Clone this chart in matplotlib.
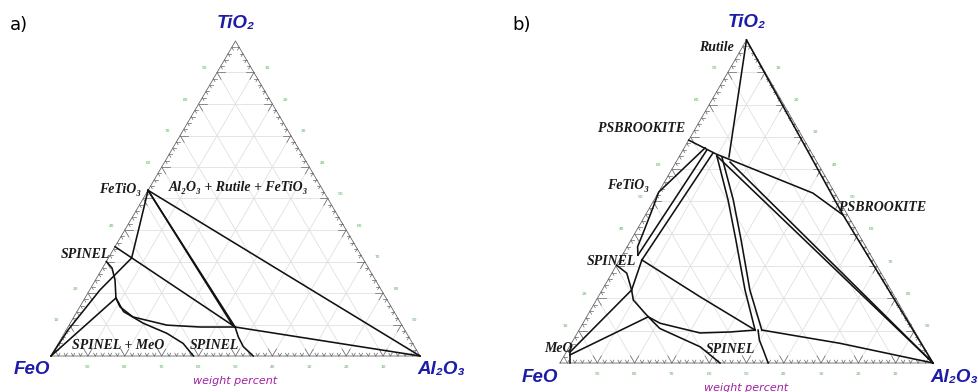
import numpy as np
import matplotlib.pyplot as plt

# phase boundaries as (wt% TiO2, wt% Al2O3); FeO is the balance
# --- panel a ---
a_ilm_cor = [(52.6, 0), (0, 100)]
a_ilm_sp1 = [(52.6, 0), (9.2, 45.3)]
a_ilm_sp2 = [(52.6, 0), (9.7, 44.4)]
a_ilm_feo = [(52.6, 0), (42.1, 3.1), (31.1, 6.3), (21.0, 2.8), (8.3, 0.5), (0, 0)]
a_sp_tie = [(34.7, 0), (9.2, 45.3)]
a_sp_upper = [(30.0, 0), (27.9, 2.6), (24.1, 5.3), (18.4, 8.4), (15.6, 10.9), (12.4, 16.0),
              (9.8, 26.5), (9.2, 35.8), (9.2, 45.3)]
a_sp_lower = [(18.4, 8.4), (14.1, 12.6), (10.4, 19.8), (7.2, 27.8), (4.0, 33.8), (0, 38.6)]
a_sp_right = [(9.2, 45.3), (6.1, 47.7), (3.0, 50.6), (0, 54.8)]
a_sp_cor = [(9.2, 45.3), (0, 100)]
a_feo_sp = [(0, 0), (18.4, 8.4)]

# --- panel b ---
b_psb_tie = [(69.0, 0), (64.7, 9.5), (52.6, 41.5), (45.8, 53.0)]
b_rutile = [(100, 0), (63.8, 13.4)]
b_ilm_1 = [(66.6, 5.6), (52.9, 0), (47.4, 1.0), (40.0, 2.2), (36.0, 2.8), (33.4, 4.2)]
b_ilm_2 = [(65.9, 6.4), (33.4, 4.2)]
b_ilm_3 = [(65.0, 8.5), (31.9, 6.0)]
b_sp_tie = [(31.9, 6.0), (20.5, 27.3), (10.2, 47.2)]
b_sp_link = [(31.9, 6.0), (22.6, 7.9)]
b_sp_upper = [(30.3, 0), (27.8, 4.0), (22.6, 7.9), (19.5, 9.9), (14.3, 16.5), (12.3, 20.7),
              (9.3, 32.9), (9.6, 40.8), (10.2, 47.2)]
b_sp_lower = [(14.3, 16.5), (10.7, 21.4), (5.0, 35.1), (0, 42.9)]
b_meo_1 = [(22.6, 7.9), (3.4, 1.0)]
b_meo_2 = [(14.3, 16.5), (2.5, 1.4)]
b_meo_3 = [(3.4, 1.0), (0, 2.7)]
b_q_j1 = [(64.1, 10.0), (50.5, 19.8), (38.1, 28.1), (22.6, 38.3), (10.2, 47.2)]
b_q_j2 = [(63.8, 11.5), (50.5, 21.2), (38.1, 29.5), (22.6, 39.6), (10.2, 49.0)]
b_j_cor = [(10.2, 49.0), (6.1, 72.0), (0, 100)]
b_j_down = [(10.2, 48.0), (7.1, 49.9), (4.0, 52.5), (0, 55.8)]
b_q_cor1 = [(64.1, 10.0), (0, 100)]
b_q_cor2 = [(62.2, 14.5), (0, 100)]
b_psb_edge = [(100, 0), (45.8, 53.0), (0, 100)]

tick_vals = [10, 20, 30, 40, 50, 60, 70, 80, 90]

SQ = np.sqrt(3) / 2
serif = dict(family=['Liberation Serif', 'DejaVu Serif'], weight='bold', style='italic',
             color='#1a1a1a', fontsize=10)
comp = dict(family=['Liberation Sans', 'DejaVu Sans'], weight='bold', style='italic',
            color='#1c1ca8', fontsize=13.5)
green = dict(fontsize=3.2, color='#55aa55', ha='center', va='center')


def tern(ti, al):
    ti = np.asarray(ti, float) / 100
    al = np.asarray(al, float) / 100
    return al + ti / 2, ti * SQ


def draw_line(ax, pts, lw=1.15):
    ti, al = zip(*pts)
    x, y = tern(ti, al)
    ax.plot(x, y, color='#111111', lw=lw, clip_on=False, zorder=3)


def frame(ax, hidden_left=()):
    # light grid
    for v in tick_vals:
        for ti, al in [([v, v], [0, 100 - v]), ([0, 100 - v], [v, v]), ([0, 100 - v], [100 - v, 0])]:
            x, y = tern(ti, al)
            ax.plot(x, y, color='#e0e0e0', lw=0.6, zorder=1)
    x, y = tern([0, 0, 100, 0], [0, 100, 0, 0])
    ax.plot(x, y, color='#666666', lw=0.6, zorder=2, clip_on=False)
    # edge ticks, every 2 %
    for p in range(2, 100, 2):
        L = 2.2 if p % 10 == 0 else 0.9
        segs = [
            [(0, p), (L, p)], [(0, p), (L, p - L)],                    # bottom
            [(p, 0), (p, L)], [(p, 0), (p - L, L)],                    # left
            [(p, 100 - p), (p, 100 - p - L)], [(p, 100 - p), (p - L, 100 - p)],  # right
        ]
        for s in segs:
            ti, al = zip(*s)
            x, y = tern(ti, al)
            ax.plot(x, y, color='#666666', lw=0.5, zorder=2, clip_on=False)
    # small green tick labels (the ones under a phase label are covered in the original)
    for v in tick_vals:
        x, y = tern(0, v)
        ax.text(x, y - 0.03, str(100 - v), **green)
        if v not in hidden_left:
            x, y = tern(v, 0)
            ax.text(x - 0.035, y + 0.012, str(v), **green)
        x, y = tern(v, 100 - v)
        ax.text(x + 0.035, y + 0.012, str(100 - v), **green)
    ax.set_xlim(0, 1)
    ax.set_ylim(0, SQ)
    ax.axis('off')


fig = plt.figure(figsize=(9.79, 3.92), dpi=100)
W, H = 979, 392
axa = fig.add_axes([51 / W, 36 / H, 369 / W, 315 / H])
axb = fig.add_axes([560 / W, 29 / H, 373 / W, 323 / H])

frame(axa, hidden_left=(30, 50))
frame(axb, hidden_left=(30, 70))
for ax in (axa, axb):
    ax.text(0.5, 0.913, 'TiO₂', ha='center', va='center', **comp)
    ax.text(-0.053, -0.038, 'FeO', ha='center', va='center', **comp)
    ax.text(1.057, -0.038, 'Al₂O₃', ha='center', va='center', **comp)
    ax.text(0.5, -0.068, 'weight percent', ha='center', va='center', fontsize=8,
            style='italic', color='#a020a0')

# panel a
for pts in [a_ilm_cor, a_ilm_feo, a_sp_tie, a_sp_upper, a_sp_lower,
            a_sp_right, a_sp_cor, a_feo_sp, a_ilm_sp1, a_ilm_sp2]:
    draw_line(axa, pts)

axa.text(0.244, 0.459, 'FeTiO₃', ha='right', va='center', **serif)
axa.text(0.507, 0.462, 'Al₂O₃ + Rutile + FeTiO₃', ha='center', va='center', **serif)
axa.text(0.092, 0.278, 'SPINEL', ha='center', va='center', **serif)
axa.text(0.182, 0.030, 'SPINEL + MeO', ha='center', va='center', **serif)
axa.text(0.442, 0.030, 'SPINEL', ha='center', va='center', **serif)

# panel b
for pts in [b_psb_tie, b_rutile, b_ilm_1, b_ilm_2, b_ilm_3, b_sp_tie, b_sp_link,
            b_sp_upper, b_sp_lower, b_meo_1, b_meo_2, b_meo_3, b_q_j1, b_q_j2,
            b_j_cor, b_j_down, b_q_cor1, b_q_cor2, b_psb_edge]:
    draw_line(axb, pts)

axb.text(0.418, 0.845, 'Rutile', ha='center', va='center', **serif)
axb.text(0.220, 0.630, 'PSBROOKITE', ha='center', va='center', **serif)
axb.text(0.182, 0.475, 'FeTiO₃', ha='center', va='center', **serif)
axb.text(0.866, 0.416, 'PSBROOKITE', ha='center', va='center', **serif)
axb.text(0.139, 0.271, 'SPINEL', ha='center', va='center', **serif)
axb.text(-0.005, 0.038, 'MeO', ha='center', va='center', **serif)
axb.text(0.458, 0.035, 'SPINEL', ha='center', va='center', **serif)

fig.text(10 / W, 1 - 25 / H, 'a)', fontsize=13, va='center', ha='left')
fig.text(512 / W, 1 - 25 / H, 'b)', fontsize=13, va='center', ha='left')

fig.savefig('out.png', dpi=100, facecolor='white')
